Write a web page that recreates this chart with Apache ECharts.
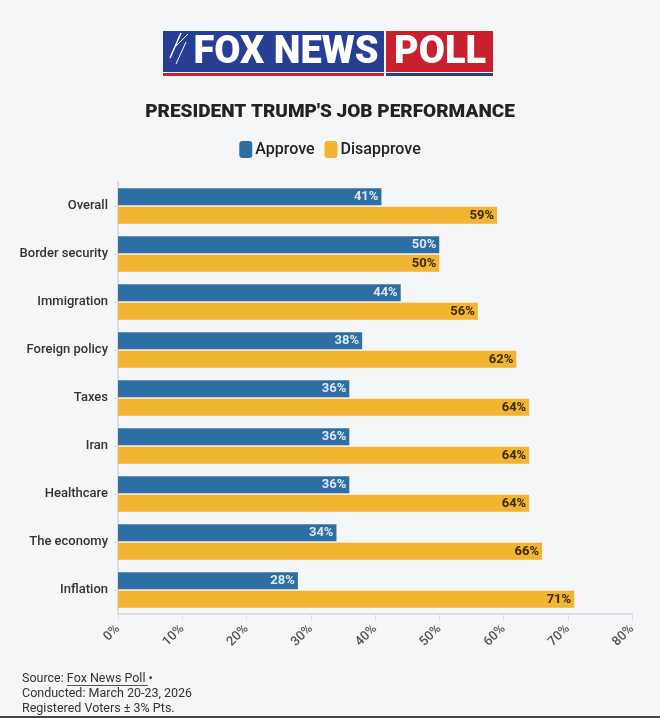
<!DOCTYPE html>
<html lang="en">
<head>
    <meta charset="utf-8">
    <title>President Trump's Job Performance</title>
    <script src="https://cdn.jsdelivr.net/npm/echarts@6/dist/echarts.min.js"></script>
    <style>
        * { margin: 0; padding: 0; }
        body { background: #f5f6f8; }
        #chart { width: 660px; height: 718px; }
    </style>
</head>
<body>
<div id="chart"></div>
<script>
    // data
    const categories = ['Overall', 'Border security', 'Immigration', 'Foreign policy', 'Taxes', 'Iran', 'Healthcare', 'The economy', 'Inflation'];
    const approve = [41, 50, 44, 38, 36, 36, 36, 34, 28];
    const disapprove = [59, 50, 56, 62, 64, 64, 64, 66, 71];
    const xTicks = [0, 10, 20, 30, 40, 50, 60, 70, 80];

    const blue = '#2f6ea3';
    const yellow = '#f1b533';
    const font = 'Roboto, "Noto Sans", sans-serif';

    const myChart = echarts.init(document.getElementById('chart'), null, { renderer: 'canvas' });

    const option = {
        backgroundColor: '#f5f6f8',
        animation: false,
        textStyle: { fontFamily: font },
        title: {
            text: "PRESIDENT TRUMP'S JOB PERFORMANCE",
            left: 'center',
            top: 98,
            textStyle: { fontSize: 19, fontWeight: 900, color: '#222', fontFamily: font }
        },
        legend: {
            data: ['Approve', 'Disapprove'],
            top: 136,
            left: 'center',
            icon: 'roundRect',
            itemWidth: 13,
            itemHeight: 17,
            itemGap: 10,
            textStyle: { fontSize: 16, color: '#222', fontWeight: 500, padding: [0, 0, 0, -2] }
        },
        grid: { left: 118, right: 28, top: 182, bottom: 104, containLabel: false },
        xAxis: {
            type: 'value',
            min: 0,
            max: 80,
            interval: 10,
            axisLine: { show: true, lineStyle: { color: '#dcdde0', width: 2 } },
            axisTick: { show: true, length: 6, lineStyle: { color: '#dcdde0' } },
            splitLine: { show: false },
            axisLabel: {
                rotate: 45,
                fontSize: 13,
                fontWeight: 500,
                color: '#555',
                margin: 13,
                formatter: v => xTicks.includes(v) ? v + '%' : ''
            }
        },
        yAxis: {
            type: 'category',
            data: categories,
            inverse: true,
            axisLine: { show: true, lineStyle: { color: '#dcdde0', width: 2 } },
            axisTick: { show: true, length: 5, alignWithLabel: true, lineStyle: { color: '#dcdde0' } },
            axisLabel: { fontSize: 13, color: '#333', margin: 10, fontWeight: 500 }
        },
        series: [
            {
                name: 'Approve',
                type: 'bar',
                data: approve,
                barWidth: 17,
                barGap: '10%',
                itemStyle: { color: blue },
                label: {
                    show: true,
                    position: 'insideRight',
                    formatter: '{c}%',
                    fontSize: 13,
                    fontWeight: 'bold',
                    color: '#dde9f5',
                    offset: [2, 0]
                }
            },
            {
                name: 'Disapprove',
                type: 'bar',
                data: disapprove,
                barWidth: 17,
                itemStyle: { color: yellow },
                label: {
                    show: true,
                    position: 'insideRight',
                    formatter: '{c}%',
                    fontSize: 13,
                    fontWeight: 'bold',
                    color: '#3b2a05',
                    offset: [2, 0]
                }
            }
        ],
        graphic: [
            // logo
            { type: 'rect', shape: { x: 163, y: 31, width: 221, height: 41 }, style: { fill: '#263f94' } },
            { type: 'rect', shape: { x: 386, y: 31, width: 107, height: 41 }, style: { fill: '#c8202f' } },
            { type: 'rect', shape: { x: 163, y: 73, width: 221, height: 3 }, style: { fill: '#c8202f' } },
            { type: 'rect', shape: { x: 386, y: 73, width: 107, height: 3 }, style: { fill: '#263f94' } },
            { type: 'polyline', shape: { points: [[170, 58], [181, 33]] }, style: { stroke: '#ffffff', lineWidth: 1.5 } },
            { type: 'polyline', shape: { points: [[174, 48], [188, 34]] }, style: { stroke: '#ffffff', lineWidth: 1 } },
            { type: 'polyline', shape: { points: [[176, 64], [186, 42]] }, style: { stroke: '#ffffff', lineWidth: 1 } },
            {
                type: 'text', x: 286, y: 53,
                style: {
                    text: 'FOX NEWS', fill: '#ffffff', font: '900 38px Roboto, sans-serif',
                    align: 'center', verticalAlign: 'middle'
                }
            },
            {
                type: 'text', x: 440, y: 53,
                style: {
                    text: 'POLL', fill: '#ffffff', font: '900 38px Roboto, sans-serif',
                    align: 'center', verticalAlign: 'middle'
                }
            },
            // footer
            {
                type: 'text', left: 22, top: 672,
                style: { text: 'Source: Fox News Poll •', fill: '#333', font: '12.5px Roboto, sans-serif' }
            },
            { type: 'rect', shape: { x: 67, y: 685, width: 81, height: 1 }, style: { fill: '#555' } },
            {
                type: 'text', left: 22, top: 687,
                style: { text: 'Conducted: March 20-23, 2026', fill: '#333', font: '12.5px Roboto, sans-serif' }
            },
            {
                type: 'text', left: 22, top: 702,
                style: { text: 'Registered Voters ± 3% Pts.', fill: '#333', font: '12.5px Roboto, sans-serif' }
            },
            { type: 'rect', shape: { x: 0, y: 716, width: 660, height: 2 }, style: { fill: '#444' } }
        ]
    };

    myChart.setOption(option);
</script>
</body>
</html>
